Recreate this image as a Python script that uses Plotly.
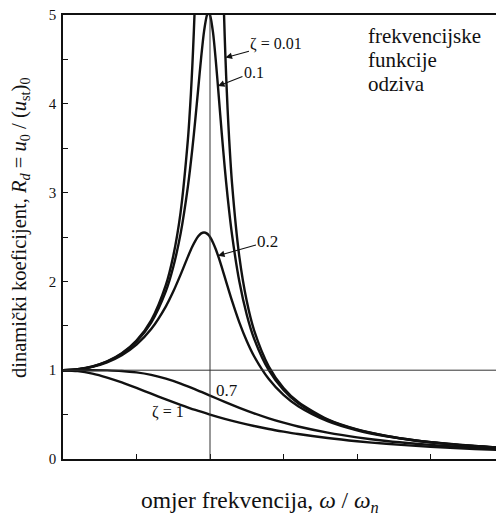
import plotly.graph_objects as go

# frequency ratio grids
x_001 = [0, 0.1, 0.2, 0.3, 0.4, 0.5, 0.6, 0.7, 0.75, 0.8, 0.85, 0.86, 0.87, 0.88, 0.89, 0.9,
         0.92, 0.95, 1.05, 1.08, 1.09, 1.1, 1.11, 1.12, 1.13, 1.15,
         1.2, 1.25, 1.3, 1.4, 1.5, 1.6, 1.8, 2.0, 2.2, 2.4, 2.6, 2.8, 3.0]
rd_001 = [1.000, 1.010, 1.042, 1.099, 1.190, 1.333, 1.563, 1.961, 2.286, 2.778, 3.604, 3.840, 4.113, 4.433, 4.810, 5.263,
          6.51, 10.26, 9.76, 6.01, 5.316, 4.762, 4.308, 3.931, 3.611, 3.101,
          2.273, 1.778, 1.449, 1.042, 0.800, 0.641, 0.446, 0.333, 0.260, 0.210, 0.174, 0.146, 0.125]

x_fine = [0, 0.1, 0.2, 0.3, 0.4, 0.5, 0.6, 0.7, 0.75, 0.8, 0.85, 0.88, 0.9,
          0.92, 0.94, 0.96, 0.98, 0.99, 1.0, 1.02, 1.04, 1.06, 1.08, 1.1, 1.12, 1.15,
          1.2, 1.25, 1.3, 1.4, 1.5, 1.6, 1.8, 2.0, 2.2, 2.4, 2.6, 2.8, 3.0]
rd_01 = [1.000, 1.010, 1.041, 1.096, 1.185, 1.322, 1.536, 1.891, 2.162, 2.538, 3.073, 3.494, 3.821,
         4.172, 4.523, 4.822, 5.001, 5.025, 5.000, 4.809, 4.476, 4.075, 3.668, 3.288, 2.950, 2.524,
         1.995, 1.625, 1.356, 1.000, 0.778, 0.628, 0.441, 0.330, 0.259, 0.209, 0.173, 0.146, 0.125]
rd_02 = [1.000, 1.009, 1.038, 1.089, 1.169, 1.288, 1.463, 1.719, 1.885, 2.076, 2.279, 2.392, 2.457,
         2.508, 2.541, 2.551, 2.538, 2.522, 2.500, 2.439, 2.359, 2.264, 2.160, 2.051, 1.941, 1.780,
         1.536, 1.329, 1.157, 0.900, 0.721, 0.593, 0.425, 0.322, 0.254, 0.206, 0.171, 0.144, 0.124]

x_coarse = [0, 0.1, 0.2, 0.3, 0.4, 0.5, 0.6, 0.7, 0.8, 0.9, 1.0, 1.1, 1.2, 1.3, 1.4, 1.5, 1.6,
            1.8, 2.0, 2.2, 2.4, 2.6, 2.8, 3.0]
rd_07 = [1.000, 1.000, 1.000, 0.998, 0.991, 0.975, 0.947, 0.905, 0.850, 0.785, 0.714, 0.643, 0.576,
         0.514, 0.458, 0.409, 0.366, 0.297, 0.244, 0.203, 0.172, 0.147, 0.127, 0.111]
rd_1 = [1.000, 0.990, 0.962, 0.917, 0.862, 0.800, 0.735, 0.671, 0.610, 0.552, 0.500, 0.452, 0.410,
        0.372, 0.338, 0.308, 0.281, 0.236, 0.200, 0.171, 0.148, 0.129, 0.113, 0.100]

y_tickvals = [0, 1, 2, 3, 4, 5]
y_ticktext = ["0", "1", "2", "3", "4", "5"]
x_tickvals = [0.5, 1.0, 1.5, 2.0, 2.5]
note_lines = ["frekvencijske", "funkcije", "odziva"]

SERIF = "Liberation Serif"
INK = "#111111"

fig = go.Figure()
series = [(x_001, rd_001), (x_fine, rd_01), (x_fine, rd_02), (x_coarse, rd_07), (x_coarse, rd_1)]
for xs, ys in series:
    fig.add_trace(go.Scatter(x=xs, y=ys, mode="lines",
                             line=dict(color=INK, width=2.4, shape="spline", smoothing=0.8),
                             showlegend=False, hoverinfo="skip"))

# reference lines
fig.add_shape(type="line", xref="x", yref="y", x0=1, x1=1, y0=0, y1=5,
              line=dict(color="#333333", width=1))
fig.add_shape(type="line", xref="paper", yref="y", x0=0, x1=1, y0=1, y1=1,
              line=dict(color="#333333", width=1))

ann = []
def label(text, x, y, ax, ay, size=15):
    ann.append(dict(text=text, x=x, y=y, xref="x", yref="y", ax=ax, ay=ay,
                    showarrow=True, arrowhead=2, arrowsize=1.2, arrowwidth=1.1,
                    arrowcolor=INK, standoff=0,
                    font=dict(family=SERIF, size=size, color=INK)))

label("ζ = 0.01", 1.105, 4.52, 51, -14, size=16)
label("0.1", 1.054, 4.20, 36, -14, size=16)
label("0.2", 1.054, 2.29, 50, -14, size=17)

ann.append(dict(text="0.7", x=1.03, y=0.77, xref="x", yref="y", showarrow=False,
                xanchor="left", font=dict(family=SERIF, size=17, color=INK)))
ann.append(dict(text="ζ = 1", x=0.595, y=0.53, xref="x", yref="y", showarrow=False,
                xanchor="left", font=dict(family=SERIF, size=16, color=INK)))
for i, line_txt in enumerate(note_lines):
    ann.append(dict(text=line_txt, x=(367 - 63) / 433, y=(459 - (36 + 24 * i)) / 444,
                    xref="paper", yref="paper", showarrow=False, xanchor="left", yanchor="middle",
                    borderpad=0, font=dict(family=SERIF, size=21, color=INK)))
ann.append(dict(text="dinamički koeficijent, <i>R<sub>d</sub></i> = <i>u</i><sub>0</sub> / (<i>u</i><sub>st</sub>)<sub>0</sub>",
                x=(20 - 63) / 433, y=(459 - 228) / 444, xref="paper", yref="paper",
                showarrow=False, textangle=-90, xanchor="center", yanchor="middle",
                font=dict(family=SERIF, size=20.5, color=INK)))
ann.append(dict(text="omjer frekvencija, <i>ω</i> / <i>ω<sub>n</sub></i>",
                x=(260 - 63) / 433, y=(459 - 502) / 444, xref="paper", yref="paper",
                showarrow=False, xanchor="center", yanchor="middle",
                font=dict(family=SERIF, size=23.5, color=INK)))

fig.update_layout(
    width=496, height=517,
    margin=dict(l=63, r=0, t=15, b=58),
    font=dict(family=SERIF, color=INK),
    paper_bgcolor="white", plot_bgcolor="white",
    annotations=ann,
    xaxis=dict(range=[0, 433 / 147], showgrid=False, zeroline=False,
               showline=True, linecolor=INK, linewidth=1.5, mirror=True,
               ticks="inside", tickvals=x_tickvals, ticklen=5, tickcolor=INK,
               showticklabels=False, fixedrange=True),
    yaxis=dict(range=[0, 5], showgrid=False, zeroline=False,
               showline=True, linecolor=INK, linewidth=1.5,
               ticks="inside", tickvals=y_tickvals, ticktext=y_ticktext, ticklen=5,
               tickcolor=INK, ticklabelstandoff=2,
               minor=dict(tickvals=[0.5, 1.5, 2.5, 3.5, 4.5], ticks="inside", ticklen=5,
                          tickcolor=INK, showgrid=False),
               tickfont=dict(family=SERIF, size=15, color=INK), fixedrange=True),
)

fig.write_html("out.html", config={"displayModeBar": False})
